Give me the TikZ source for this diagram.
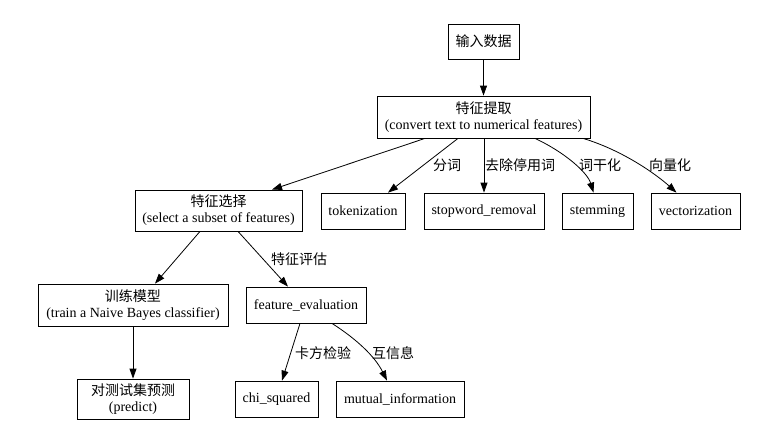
\documentclass[tikz,border=0pt]{standalone}
\usepackage{fontspec}
\setmainfont{Liberation Serif}
\newfontfamily\cjk{Noto Sans CJK SC}
\usetikzlibrary{arrows.meta}
\begin{document}
\begin{tikzpicture}[x=1pt,y=-1pt,
 box/.style={draw, line width=0.8pt, inner sep=0pt, align=center, font=\fontsize{14}{16}\selectfont},
 lab/.style={inner sep=0pt, font=\cjk\fontsize{14}{16}\selectfont},
 edge/.style={line width=0.8pt, -{Triangle[length=10pt,width=7pt]}}]
\useasboundingbox[fill=white] (0,0) rectangle (777,439);

\node[box, minimum width=71, minimum height=35] (input) at (483.5,41.5) {\cjk 输入数据};
\node[box, minimum width=213, minimum height=42] (tiqu) at (483.5,117) {{\cjk 特征提取}\\(convert text to numerical features)};
\node[box, minimum width=167, minimum height=41] (xuanze) at (218.5,210.5) {{\cjk 特征选择}\\(select a subset of features)};
\node[box, minimum width=84, minimum height=36] (token) at (363,211) {tokenization};
\node[box, minimum width=120, minimum height=36] (stop) at (484,211) {stopword\_removal};
\node[box, minimum width=71, minimum height=36] (stem) at (597.5,211) {stemming};
\node[box, minimum width=89, minimum height=36] (vec) at (695.5,211) {vectorization};
\node[box, minimum width=190, minimum height=42] (train) at (133,305) {{\cjk 训练模型}\\(train a Naive Bayes classifier)};
\node[box, minimum width=120, minimum height=36] (feval) at (306,305) {feature\_evaluation};
\node[box, minimum width=112, minimum height=40] (pred) at (133,399) {{\cjk 对测试集预测}\\(predict)};
\node[box, minimum width=83, minimum height=36] (chi) at (276.5,399) {chi\_squared};
\node[box, minimum width=128, minimum height=36] (mutual) at (400,399) {mutual\_information};

\node[lab] (l1) at (447,165) {分词};
\node[lab] (l2) at (520,165) {去除停用词};
\node[lab] (l3) at (600,165) {词干化};
\node[lab] (l4) at (670,165) {向量化};
\node[lab] (l5) at (299,259) {特征评估};
\node[lab] (l6) at (323,353) {卡方检验};
\node[lab] (l7) at (393,353) {互信息};

\draw[edge] (input) -- (tiqu);
\draw[edge] ([xshift=-58.5]tiqu.south) -- ([xshift=53.5]xuanze.north);
\draw[edge] ([xshift=-25.5]tiqu.south) -- ([xshift=25]token.north);
\draw[edge] (tiqu.south -| stop.north) -- (stop.north);
\draw[edge] ([xshift=51.5]tiqu.south) .. controls +(30,14) and +(-6,-20) .. ([xshift=-4]stem.north);
\draw[edge] ([xshift=99.5]tiqu.south) .. controls +(40,12) and +(-20,-18) .. ([xshift=-19]vec.north);
\draw[edge] ([xshift=-18.5]xuanze.south) -- ([xshift=22]train.north);
\draw[edge] ([xshift=19.5]xuanze.south) -- ([xshift=-18]feval.north);
\draw[edge] (train) -- (pred);
\draw[edge] ([xshift=-6]feval.south) -- ([xshift=5.5]chi.north);
\draw[edge] ([xshift=26]feval.south) .. controls +(25,16) and +(-12,-24) .. ([xshift=-13]mutual.north);
\end{tikzpicture}
\end{document}
